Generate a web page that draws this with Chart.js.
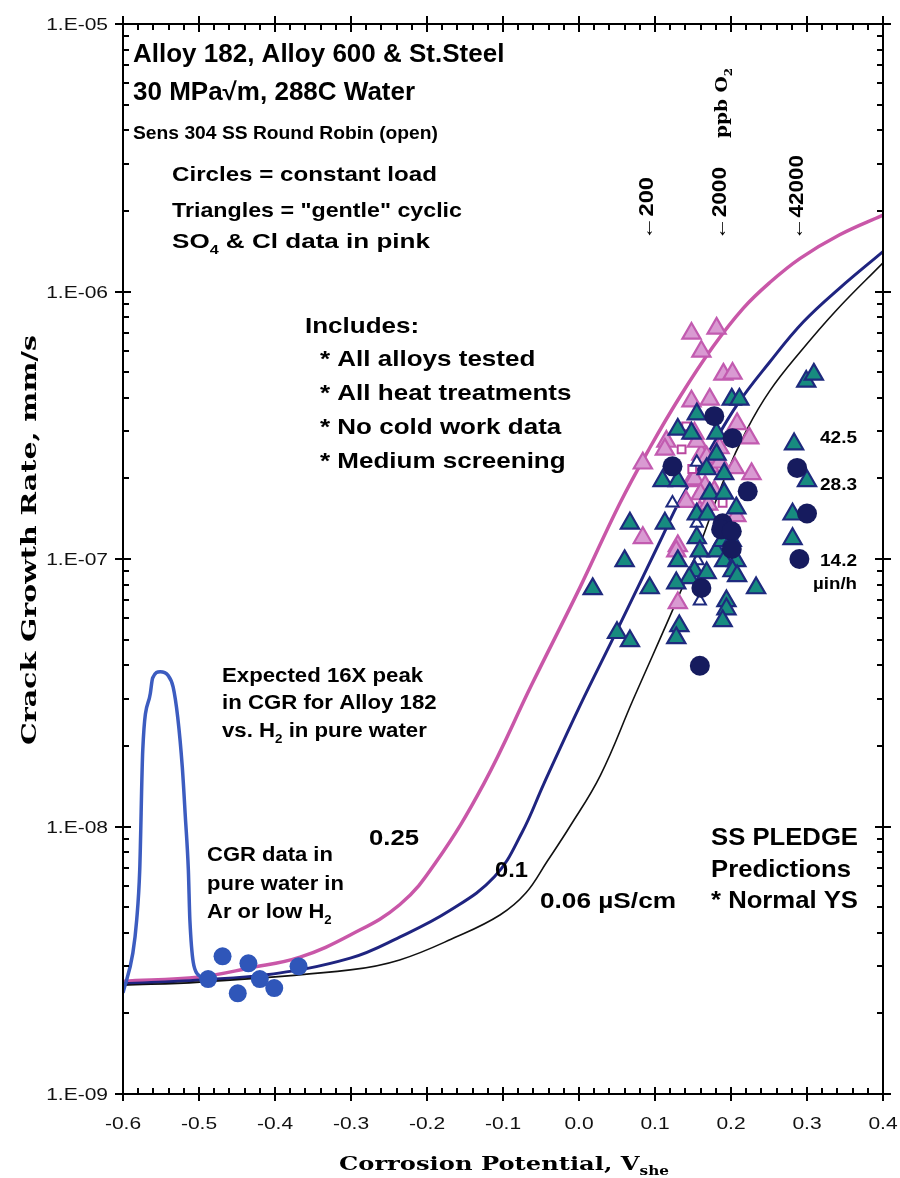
<!DOCTYPE html>
<html>
<head>
<meta charset="utf-8">
<title>Crack Growth Rate vs Corrosion Potential</title>
<script src="https://cdn.jsdelivr.net/npm/chart.js@4/dist/chart.umd.min.js"></script>
<style>
  html, body { margin: 0; padding: 0; background: #fff; }
  #wrap { width: 900px; height: 1178px; }
</style>
</head>
<body>
<div id="wrap"><canvas id="c" width="900" height="1178"></canvas></div>
<script>
// ---- axis ticks ----
const X_TICKS = [-0.6, -0.5, -0.4, -0.3, -0.2, -0.1, 0.0, 0.1, 0.2, 0.3, 0.4];
const X_TICK_LABELS = ['-0.6', '-0.5', '-0.4', '-0.3', '-0.2', '-0.1', '0.0', '0.1', '0.2', '0.3', '0.4'];
const Y_TICKS = [1e-9, 1e-8, 1e-7, 1e-6, 1e-5];
const Y_TICK_LABELS = ['1.E-09', '1.E-08', '1.E-07', '1.E-06', '1.E-05'];

// ---- SS PLEDGE predictions, [potential V_she, CGR mm/s] ----
const PLEDGE_025 = [
  [-0.600, 2.64e-9], [-0.499, 2.74e-9], [-0.433, 2.96e-9], [-0.367, 3.25e-9],
  [-0.301, 3.93e-9], [-0.236, 5.1e-9], [-0.189, 7.3e-9], [-0.125, 1.45e-8],
  [-0.062, 3.4e-8], [0.001, 7.8e-8], [0.054, 1.62e-7], [0.093, 2.6e-7],
  [0.133, 4.05e-7], [0.176, 6.2e-7], [0.216, 8.65e-7], [0.251, 1.08e-6],
  [0.291, 1.33e-6], [0.343, 1.63e-6], [0.400, 1.93e-6]
];
const PLEDGE_010 = [
  [-0.600, 2.58e-9], [-0.499, 2.67e-9], [-0.411, 2.79e-9], [-0.301, 3.22e-9],
  [-0.236, 3.86e-9], [-0.170, 4.85e-9], [-0.111, 6.5e-9], [-0.075, 9.5e-9],
  [-0.046, 1.45e-8], [0.001, 2.82e-8], [0.050, 5.41e-8], [0.107, 1.17e-7],
  [0.133, 1.66e-7], [0.172, 2.55e-7], [0.208, 3.77e-7], [0.251, 5.45e-7],
  [0.295, 7.69e-7], [0.343, 1.03e-6], [0.400, 1.41e-6]
];
const PLEDGE_006 = [
  [-0.600, 2.55e-9], [-0.499, 2.62e-9], [-0.301, 2.91e-9], [-0.236, 3.17e-9],
  [-0.162, 3.86e-9], [-0.104, 4.67e-9], [-0.070, 5.64e-9], [-0.042, 7.4e-9],
  [-0.012, 1.0e-8], [0.028, 1.55e-8], [0.071, 2.97e-8], [0.129, 7.03e-8],
  [0.159, 1.13e-7], [0.192, 2.02e-7], [0.221, 3.05e-7], [0.251, 4.25e-7],
  [0.291, 5.94e-7], [0.339, 8.53e-7], [0.400, 1.28e-6]
];
// expected Alloy 182 peak vs. H2 in pure water
const PEAK_182 = [
  [-0.600, 2.39e-9], [-0.587, 3.37e-9], [-0.582, 4.47e-9], [-0.578, 6.87e-9],
  [-0.574, 1.93e-8], [-0.564, 3.15e-8], [-0.561, 3.59e-8], [-0.551, 3.79e-8],
  [-0.541, 3.68e-8], [-0.534, 3.32e-8], [-0.528, 2.56e-8], [-0.522, 1.67e-8],
  [-0.518, 1.09e-8], [-0.514, 6.87e-9], [-0.512, 4.47e-9], [-0.503, 2.83e-9],
  [-0.492, 2.72e-9]
];

// ---- measured crack growth rates, [potential V_she, CGR mm/s] ----
const PURE_WATER = [
  [-0.488, 2.69e-9], [-0.469, 3.27e-9], [-0.449, 2.38e-9], [-0.435, 3.08e-9],
  [-0.420, 2.69e-9], [-0.401, 2.49e-9], [-0.369, 3.0e-9]
];
const CONSTANT_LOAD = [
  [0.178, 3.42e-7], [0.202, 2.83e-7], [0.123, 2.22e-7], [0.222, 1.79e-7],
  [0.287, 2.19e-7], [0.300, 1.48e-7], [0.290, 1.0e-7], [0.189, 1.36e-7],
  [0.187, 1.29e-7], [0.201, 1.27e-7], [0.201, 1.09e-7], [0.161, 7.79e-8],
  [0.159, 3.99e-8]
];
const GENTLE_CYCLIC = [
  [0.201, 3.95e-7], [0.211, 3.95e-7], [0.155, 3.48e-7], [0.130, 3.05e-7],
  [0.148, 2.95e-7], [0.181, 2.95e-7], [0.181, 2.46e-7], [0.110, 1.96e-7],
  [0.130, 1.96e-7], [0.168, 2.17e-7], [0.191, 2.08e-7], [0.172, 1.76e-7],
  [0.191, 1.76e-7], [0.155, 1.47e-7], [0.169, 1.47e-7], [0.067, 1.36e-7],
  [0.113, 1.36e-7], [0.207, 1.55e-7], [0.155, 1.2e-7], [0.159, 1.07e-7],
  [0.181, 1.07e-7], [0.189, 1.17e-7], [0.201, 1.17e-7], [0.060, 9.84e-8],
  [0.130, 9.84e-8], [0.191, 9.84e-8], [0.207, 9.84e-8], [0.152, 9.02e-8],
  [0.168, 8.87e-8], [0.202, 9.02e-8], [0.208, 8.65e-8], [0.145, 8.5e-8],
  [0.128, 8.13e-8], [0.233, 7.79e-8], [0.093, 7.79e-8], [0.018, 7.73e-8],
  [0.194, 6.97e-8], [0.194, 6.5e-8], [0.189, 5.87e-8], [0.132, 5.62e-8],
  [0.050, 5.3e-8], [0.067, 4.94e-8], [0.128, 5.07e-8], [0.299, 4.61e-7],
  [0.309, 4.9e-7], [0.283, 2.69e-7], [0.300, 1.96e-7], [0.281, 1.47e-7],
  [0.281, 1.19e-7]
];
const GENTLE_CYCLIC_OPEN = [
  [0.123, 1.62e-7], [0.155, 1.36e-7], [0.156, 9.84e-8], [0.159, 6.97e-8],
  [0.155, 2.3e-7]
];
const SO4_CL_TRIANGLES = [
  [0.148, 6.97e-7], [0.181, 7.28e-7], [0.161, 5.97e-7], [0.190, 4.9e-7],
  [0.202, 4.94e-7], [0.148, 3.89e-7], [0.172, 3.95e-7], [0.208, 3.2e-7],
  [0.224, 2.83e-7], [0.227, 2.08e-7], [0.084, 2.28e-7], [0.115, 2.75e-7],
  [0.113, 2.57e-7], [0.152, 2.95e-7], [0.161, 2.46e-7], [0.155, 2.75e-7],
  [0.148, 1.96e-7], [0.141, 1.64e-7], [0.152, 1.99e-7], [0.159, 1.51e-7],
  [0.205, 2.19e-7], [0.207, 1.45e-7], [0.084, 1.2e-7], [0.130, 1.12e-7],
  [0.128, 1.07e-7], [0.130, 6.85e-8], [0.172, 2.22e-7], [0.178, 1.79e-7],
  [0.166, 1.87e-7], [0.185, 2.6e-7], [0.168, 2.4e-7], [0.160, 1.75e-7],
  [0.170, 1.6e-7], [0.185, 2.3e-7]
];
const SO4_CL_SQUARES = [
  [0.135, 2.57e-7], [0.141, 3.13e-7], [0.189, 1.62e-7], [0.149, 2.17e-7]
];

// ---- drawing helpers ----
const SANS = '"Liberation Sans", Arial, sans-serif';
const SERIF = '"DejaVu Serif", serif';
const pts = arr => arr.map(([x, y]) => ({ x, y }));

// draws a run list (plain strings or {t, sub}) with optional horizontal scaling
function drawRuns(ctx, runs, x, y, o) {
  const size = o.size, fam = o.family || SANS, wt = o.weight || 'bold';
  const subSize = Math.round(size * 0.62);
  const parts = runs.map(r => typeof r === 'string' ? { t: r } : r);
  let total = 0;
  const ws = parts.map(p => {
    ctx.font = `${wt} ${p.sub ? subSize : size}px ${fam}`;
    const w = ctx.measureText(p.t).width;
    total += w;
    return w;
  });
  let sx = 1;
  if (o.width) sx = o.width / total;
  else if (o.eq) sx = o.eq / size;
  ctx.save();
  ctx.translate(x, y);
  if (o.rot) ctx.rotate(o.rot);
  ctx.scale(sx, 1);
  let cx = o.align === 'center' ? -total / 2 : o.align === 'right' ? -total : 0;
  ctx.fillStyle = o.color || '#000';
  ctx.textAlign = 'left';
  ctx.textBaseline = 'alphabetic';
  parts.forEach((p, i) => {
    ctx.font = `${wt} ${p.sub ? subSize : size}px ${fam}`;
    ctx.fillText(p.t, cx, p.sub ? size * 0.28 : 0);
    cx += ws[i];
  });
  ctx.restore();
}

const UP = -Math.PI / 2;
const NOTES = [
  { runs: ['Alloy 182, Alloy 600 & St.Steel'], x: 133, y: 62, size: 25, eq: 26 },
  { runs: ['30 MPa\u221Am, 288C Water'], x: 133, y: 100, size: 25, eq: 26 },
  { runs: ['Sens 304 SS Round Robin (open)'], x: 133, y: 139, size: 19, width: 305 },
  { runs: ['Circles = constant load'], x: 172, y: 181, size: 21, width: 265 },
  { runs: ['Triangles = "gentle" cyclic'], x: 172, y: 217, size: 21, width: 290 },
  { runs: ['SO', { t: '4', sub: true }, ' & Cl data in pink'], x: 172, y: 248, size: 21, width: 258 },
  { runs: ['Includes:'], x: 305, y: 333, size: 22, eq: 26 },
  { runs: ['* All alloys tested'], x: 320, y: 366, size: 22, eq: 26 },
  { runs: ['* All heat treatments'], x: 320, y: 400, size: 22, eq: 26 },
  { runs: ['* No cold work data'], x: 320, y: 434, size: 22, eq: 26 },
  { runs: ['* Medium screening'], x: 320, y: 468, size: 22, eq: 26 },
  { runs: ['ppb O', { t: '2', sub: true }], x: 727, y: 138, size: 17, family: SERIF, width: 70, rot: UP },
  { runs: ['\u2190200'], x: 653, y: 240, size: 20, width: 63, rot: UP },
  { runs: ['\u21902000'], x: 726, y: 240, size: 20, width: 73, rot: UP },
  { runs: ['\u219042000'], x: 803, y: 240, size: 20, width: 85, rot: UP },
  { runs: ['42.5'], x: 820, y: 443, size: 16, width: 37 },
  { runs: ['28.3'], x: 820, y: 490, size: 16, width: 37 },
  { runs: ['14.2'], x: 820, y: 566, size: 16, width: 37 },
  { runs: ['\u00B5in/h'], x: 813, y: 589, size: 16, width: 44 },
  { runs: ['Expected 16X peak'], x: 222, y: 682, size: 20, eq: 22.2 },
  { runs: ['in CGR for Alloy 182'], x: 222, y: 709, size: 20, eq: 22.2 },
  { runs: ['vs. H', { t: '2', sub: true }, ' in pure water'], x: 222, y: 737, size: 20, eq: 22.2 },
  { runs: ['CGR data in'], x: 207, y: 861, size: 20, eq: 22 },
  { runs: ['pure water in'], x: 207, y: 890, size: 20, eq: 22 },
  { runs: ['Ar or low H', { t: '2', sub: true }], x: 207, y: 918, size: 20, eq: 22 },
  { runs: ['0.25'], x: 369, y: 845, size: 22, width: 50 },
  { runs: ['0.1'], x: 495, y: 877, size: 22, width: 33 },
  { runs: ['0.06 \u00B5S/cm'], x: 540, y: 908, size: 22, width: 136 },
  { runs: ['SS PLEDGE'], x: 711, y: 845, size: 24, width: 147 },
  { runs: ['Predictions'], x: 711, y: 877, size: 24, width: 140 },
  { runs: ['* Normal YS'], x: 711, y: 908, size: 24, width: 147 }
];

// frame, inward minor ticks, crossing major ticks, tick labels, titles and notes
const axisFrame = {
  id: 'axisFrame',
  afterDraw(chart) {
    const { ctx, chartArea: a, scales: { x, y } } = chart;
    ctx.save();
    ctx.strokeStyle = '#000';
    ctx.lineWidth = 2;
    ctx.strokeRect(a.left, a.top, a.right - a.left, a.bottom - a.top);

    ctx.beginPath();
    const xMin = X_TICKS[0];
    for (let i = 0; i <= 50; i++) {
      const px = Math.round(x.getPixelForValue(xMin + i * 0.02));
      if (i % 5 === 0) {
        ctx.moveTo(px, a.bottom - 7); ctx.lineTo(px, a.bottom + 7);
        ctx.moveTo(px, a.top - 8); ctx.lineTo(px, a.top + 8);
      } else {
        ctx.moveTo(px, a.bottom); ctx.lineTo(px, a.bottom - 6);
        ctx.moveTo(px, a.top); ctx.lineTo(px, a.top + 6);
      }
    }
    Y_TICKS.forEach((dec, k) => {
      for (let m = 1; m <= 9; m++) {
        if (k === Y_TICKS.length - 1 && m > 1) break;
        const py = Math.round(y.getPixelForValue(dec * m));
        if (m === 1) {
          ctx.moveTo(a.left - 8, py); ctx.lineTo(a.left + 8, py);
          ctx.moveTo(a.right - 8, py); ctx.lineTo(a.right + 8, py);
        } else {
          ctx.moveTo(a.left, py); ctx.lineTo(a.left + 6, py);
          ctx.moveTo(a.right, py); ctx.lineTo(a.right - 6, py);
        }
      }
    });
    ctx.stroke();
    ctx.restore();

    X_TICKS.forEach((v, i) => {
      drawRuns(ctx, [X_TICK_LABELS[i]], x.getPixelForValue(v), a.bottom + 35,
        { size: 17, eq: 21, weight: 'normal', align: 'center', color: '#111' });
    });
    Y_TICKS.forEach((v, i) => {
      drawRuns(ctx, [Y_TICK_LABELS[i]], a.left - 15, y.getPixelForValue(v) + 6,
        { size: 16, eq: 21, weight: 'normal', align: 'right', color: '#111' });
    });

    drawRuns(ctx, ['Corrosion Potential, V', { t: 'she', sub: true }], 504, 1170,
      { size: 19, family: SERIF, width: 330, align: 'center' });
    drawRuns(ctx, ['Crack Growth Rate, mm/s'], 36, 540,
      { size: 21, family: SERIF, width: 410, align: 'center', rot: UP });

    NOTES.forEach(n => drawRuns(ctx, n.runs, n.x, n.y, n));
  }
};

const curve = (data, color, width, order, mode) => ({
  type: 'line', data: pts(data), borderColor: color, borderWidth: width,
  pointRadius: 0, fill: false, order,
  cubicInterpolationMode: mode || 'default', tension: 0.4
});
const marks = (data, style, radius, bg, border, bw, order) => ({
  type: 'scatter', data: pts(data), pointStyle: style, pointRadius: radius,
  backgroundColor: bg, borderColor: border, borderWidth: bw, order
});

new Chart(document.getElementById('c'), {
  type: 'scatter',
  data: {
    datasets: [
      marks(CONSTANT_LOAD, 'circle', 10, '#161b5e', '#161b5e', 0, 1),
      marks(GENTLE_CYCLIC, 'triangle', 10.5, '#178b7f', '#1e2a7e', 2.2, 2),
      marks(GENTLE_CYCLIC_OPEN, 'triangle', 7, '#ffffff', '#1e2a7e', 2, 3),
      marks(SO4_CL_SQUARES, 'rect', 5.5, '#ffffff', '#b9479f', 2, 4),
      marks(SO4_CL_TRIANGLES, 'triangle', 10.5, '#d99ad2', '#c25bb0', 2.2, 5),
      marks(PURE_WATER, 'circle', 9, '#2f56b9', '#2f56b9', 0, 6),
      curve(PEAK_182, '#3c5cc0', 3.5, 10, 'monotone'),
      curve(PLEDGE_006, '#111111', 1.6, 11),
      curve(PLEDGE_010, '#1f2480', 3, 12),
      curve(PLEDGE_025, '#c957a8', 3.5, 13)
    ]
  },
  options: {
    responsive: false,
    animation: false,
    devicePixelRatio: 1,
    layout: { padding: { left: 123, right: 17, top: 24, bottom: 84 } },
    plugins: { legend: { display: false }, tooltip: { enabled: false } },
    scales: {
      x: { type: 'linear', min: -0.6, max: 0.4, display: false },
      y: { type: 'logarithmic', min: 1e-9, max: 1e-5, display: false }
    }
  },
  plugins: [axisFrame]
});
</script>
</body>
</html>
